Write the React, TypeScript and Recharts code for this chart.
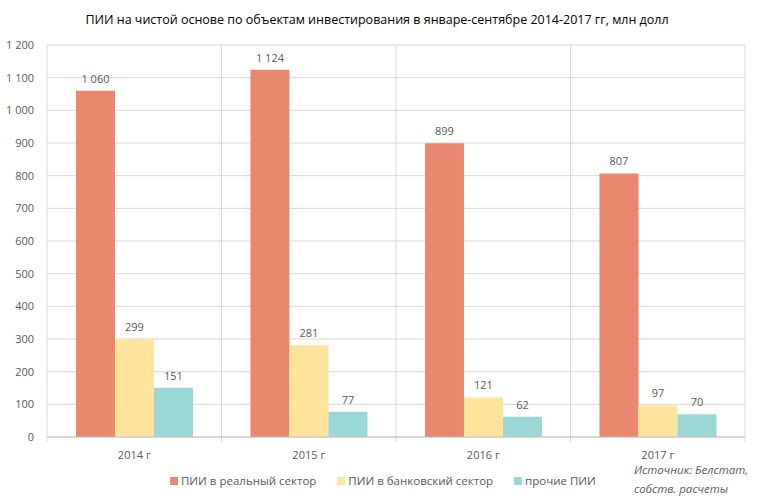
import { BarChart, Bar, XAxis, YAxis, CartesianGrid, LabelList, usePlotArea } from 'recharts'

const years = ['2014 г', '2015 г', '2016 г', '2017 г']
const realSector = [1060, 1124, 899, 807]
const bankSector = [299, 281, 121, 97]
const otherFdi = [151, 77, 62, 70]
const yTicks = [0, 100, 200, 300, 400, 500, 600, 700, 800, 900, 1000, 1100, 1200]

const series = [
  { key: 'real', name: 'ПИИ в реальный сектор', color: '#e9876f' },
  { key: 'bank', name: 'ПИИ в банковский сектор', color: '#fee49d' },
  { key: 'other', name: 'прочие ПИИ', color: '#9cd7d7' },
]

const data = years.map((year, i) => ({
  year,
  real: realSector[i],
  bank: bankSector[i],
  other: otherFdi[i],
}))

const fmt = (v: number | string) => String(v).replace(/\B(?=(\d{3})+(?!\d))/g, '\u00a0')

const font = '"Open Sans", sans-serif'
const gray = '#595959'

// short tick marks below the axis at the category boundaries
function BoundaryTicks() {
  const area = usePlotArea()
  if (!area) return null
  const step = area.width / years.length
  const bottom = area.y + area.height
  return (
    <g>
      {[...years.map((_, i) => area.x + i * step), area.x + area.width].map((x, i) => (
        <line key={i} x1={x} x2={x} y1={bottom} y2={bottom + 5} stroke="#d9d9d9" />
      ))}
    </g>
  )
}

export default function App() {
  return (
    <div style={{ position: 'absolute', left: 0, top: 0, width: 760, height: 501, background: '#fff', fontFamily: font }}>
      <div
        style={{
          position: 'absolute',
          top: 11,
          left: 0,
          width: 754,
          textAlign: 'center',
          fontSize: 12.5,
          color: '#000',
        }}
      >
        ПИИ на чистой основе по объектам инвестирования в январе-сентябре 2014-2017 гг, млн долл
      </div>
      <BarChart
        width={760}
        height={501}
        data={data}
        margin={{ top: 45, right: 15, bottom: 44, left: 0 }}
        barCategoryGap="16.6%"
        barGap={0}
      >
        <CartesianGrid
          stroke="#d9d9d9"
          verticalCoordinatesGenerator={({ offset }: any) =>
            years.map((_, i) => offset.left + (i * offset.width) / years.length).concat(offset.left + offset.width)
          }
        />
        <XAxis
          dataKey="year"
          tick={{ fill: gray, fontSize: 11, fontFamily: font }}
          tickLine={false}
          axisLine={{ stroke: '#bfbfbf' }}
          tickMargin={8}
          height={20}
        />
        <YAxis
          domain={[0, 1200]}
          ticks={yTicks}
          tickFormatter={fmt}
          tick={{ fill: gray, fontSize: 11, fontFamily: font }}
          tickLine={false}
          axisLine={false}
          width={47}
          tickMargin={7}
          interval={0}
        />
        {series.map((s) => (
          <Bar key={s.key} dataKey={s.key} name={s.name} fill={s.color} isAnimationActive={false}>
            <LabelList dataKey={s.key} position="top" offset={8} formatter={fmt} fill={gray} fontSize={11} />
          </Bar>
        ))}
        <BoundaryTicks />
      </BarChart>
      <div
        style={{
          position: 'absolute',
          left: 170,
          top: 473,
          display: 'flex',
          alignItems: 'center',
          fontSize: 11.5,
          color: gray,
          whiteSpace: 'nowrap',
        }}
      >
        {series.map((s) => (
          <div key={s.key} style={{ display: 'flex', alignItems: 'center', marginRight: 21 }}>
            <span style={{ display: 'inline-block', width: 8, height: 8, background: s.color, marginRight: 3 }} />
            <span>{s.name}</span>
          </div>
        ))}
      </div>
      <div
        style={{
          position: 'absolute',
          left: 634,
          top: 460,
          fontSize: 11.5,
          fontStyle: 'italic',
          color: gray,
          lineHeight: '19px',
        }}
      >
        Источник: Белстат,
        <br />
        собств. расчеты
      </div>
    </div>
  )
}
